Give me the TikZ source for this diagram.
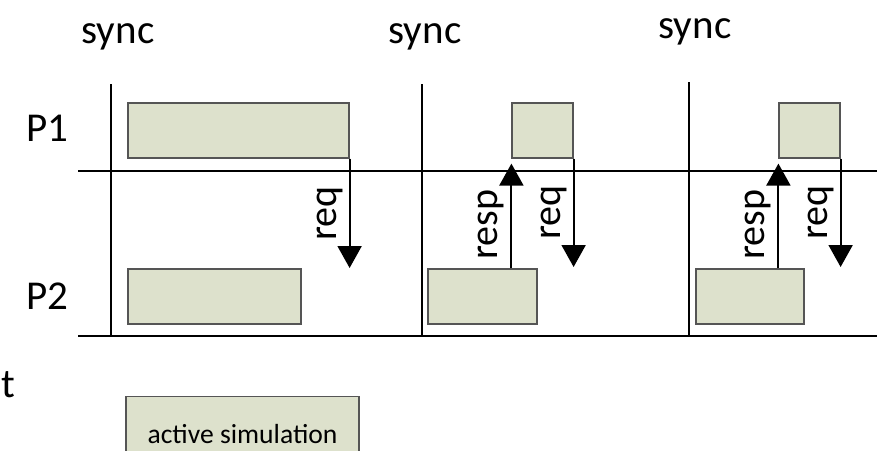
\documentclass[tikz,border=0pt]{standalone}
\usepackage{fontspec}
\setmainfont{Carlito}
\usetikzlibrary{arrows.meta}
\definecolor{simfill}{HTML}{DDE1CC}
\definecolor{simline}{HTML}{555555}

\begin{document}
\begin{tikzpicture}[x=0.5pt, y=-0.5pt,
  lbl/.style={font=\fontsize{20.5}{24}\selectfont, inner sep=0pt},
  sim/.style={draw=simline, line width=0.6pt, fill=simfill, minimum height=27.5pt, inner sep=0pt},
  axis/.style={line width=1.2pt},
  sep/.style={line width=1pt},
  msg/.style={-{Triangle[width=12pt, length=11pt]}, line width=1pt},
  tag/.style={font=\fontsize{20}{24}\selectfont, rotate=90, anchor=south, inner sep=3pt}
]
\useasboundingbox (0,0) rectangle (877,450);
\clip (0,0) rectangle (877,450);

% sync points
\node[lbl, anchor=base] (s1) at (118,43) {sync};
\node[lbl, anchor=base] (s2) at (425,43) {sync};
\node[lbl, anchor=base] (s3) at (695,38) {sync};
\node[lbl, anchor=base west] (tm) at (1,397) {t};

% processes
\node[lbl] (p1) at (47,128) {P1};
\node[lbl] (p2) at (47,296) {P2};

% time lines and sync barriers
\draw[axis] (78,171) -- (877,171);
\draw[axis] (78,336) -- (877,336);
\draw[sep] (111,84) -- (111,336);
\draw[sep] (422,84) -- (422,336);
\draw[sep] (689,82) -- (689,336);

% busy phases
\node[sim, minimum width=110.5pt] (a1) at (238.5,130.5) {};
\node[sim, minimum width=86.5pt] (b1) at (214.5,296.5) {};
\node[sim, minimum width=30.5pt] (a2) at (542.5,130.5) {};
\node[sim, minimum width=54.5pt] (b2) at (482.5,296.5) {};
\node[sim, minimum width=30.5pt] (a3) at (809.5,130.5) {};
\node[sim, minimum width=54pt] (b3) at (750,296.5) {};

% messages P1 <-> P2
\coordinate (r1) at (350,268);
\coordinate (r2) at (573,267);
\coordinate (r3) at (840,267);
\draw[msg] (a1.south east) -- (a1.south east |- r1) node[tag, midway] {req};
\draw[msg, shorten >=2.5pt] (b2.north -| a2.south west) -- (a2.south west) node[tag, pos=0.4] {resp};
\draw[msg] (a2.south east) -- (a2.south east |- r2) node[tag, midway] {req};
\draw[msg, shorten >=2.5pt] (b3.north -| a3.south west) -- (a3.south west) node[tag, pos=0.4] {resp};
\draw[msg] (a3.south east) -- (a3.south east |- r3) node[tag, midway] {req};

% legend
\node[sim, minimum width=116.5pt, minimum height=40pt, anchor=north, font=\fontsize{13.8}{16}\selectfont,
  text height=10pt, text depth=3pt] (key) at (242.5,396) {active simulation};
\end{tikzpicture}
\end{document}
